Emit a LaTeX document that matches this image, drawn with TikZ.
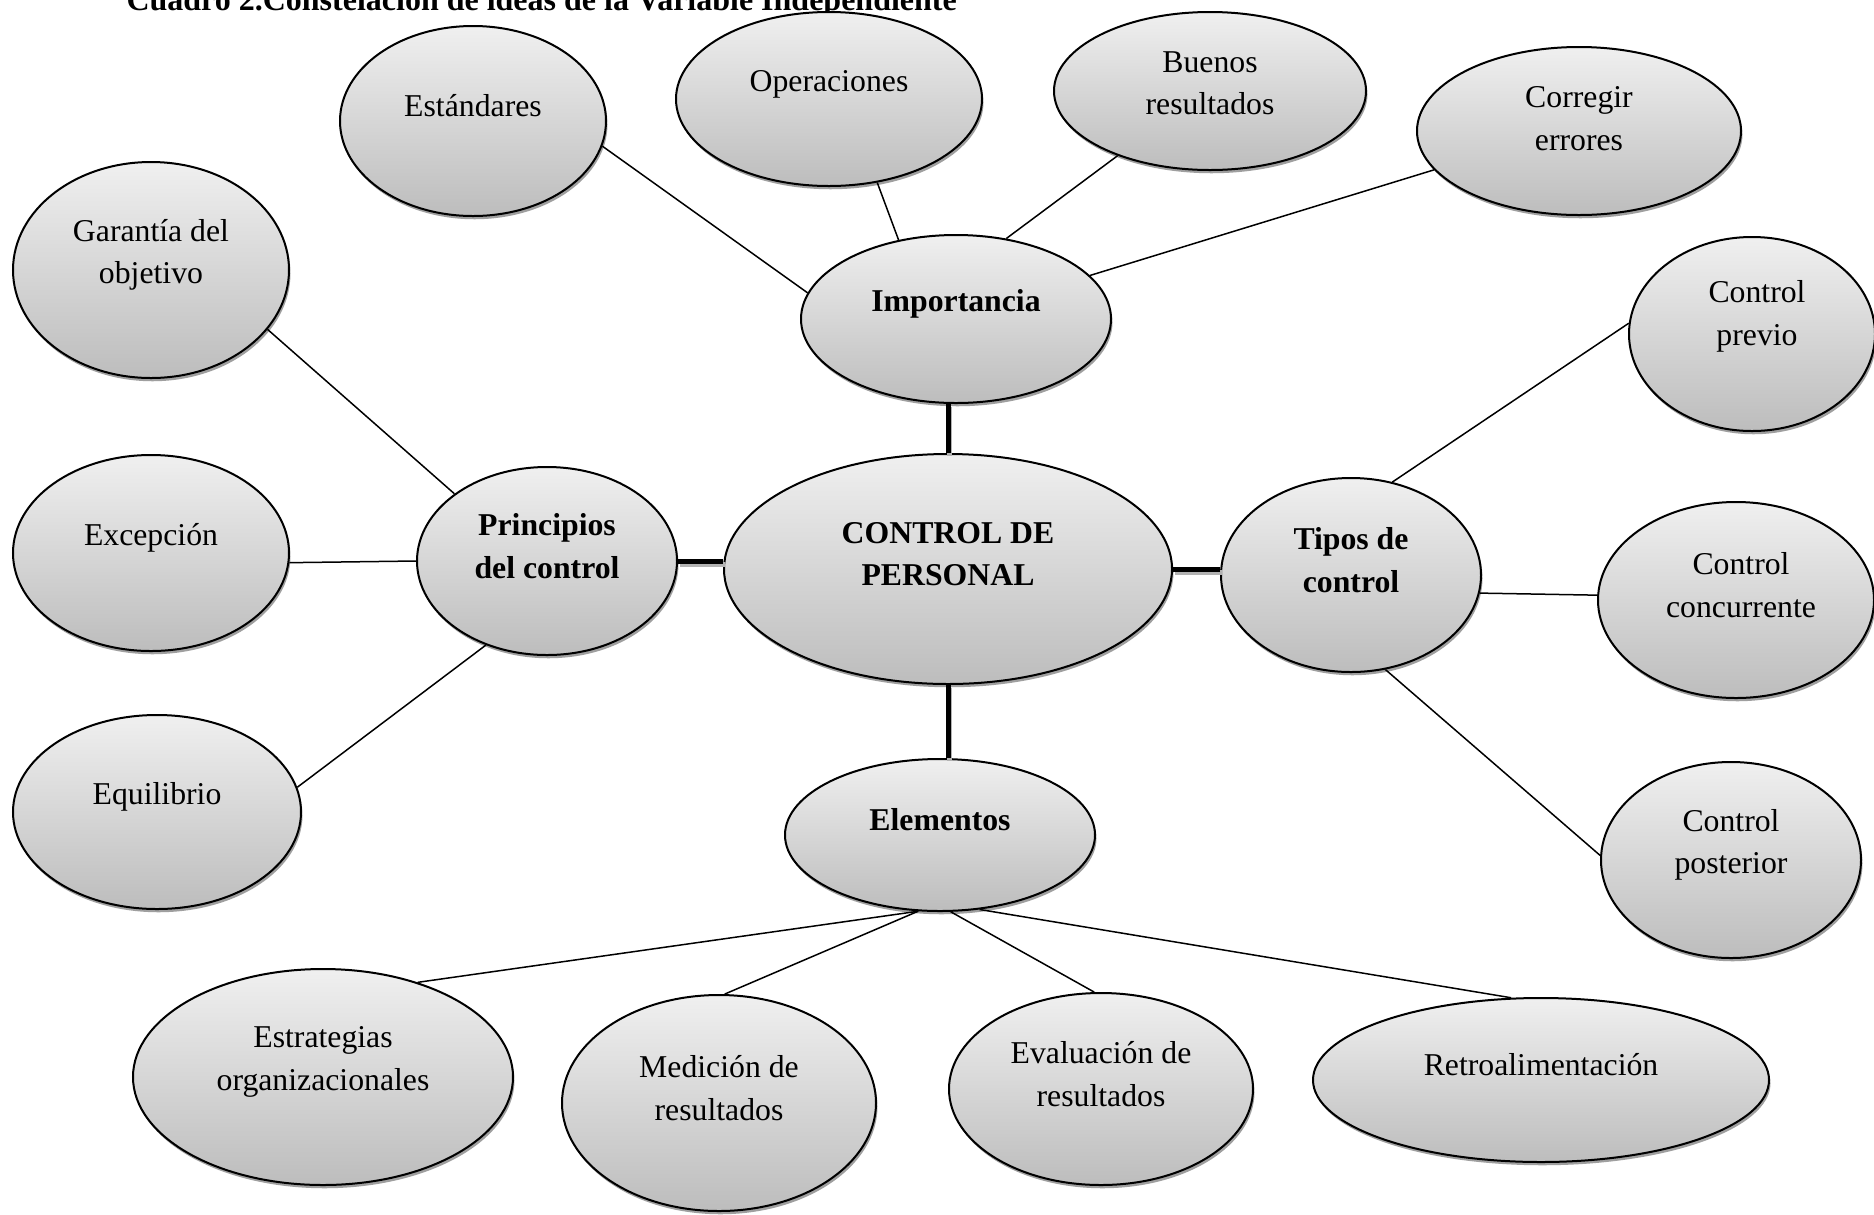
\documentclass[tikz,border=0pt]{standalone}
\usepackage{fontspec}
\setmainfont{Liberation Serif}
\usepackage{tikz}
\usetikzlibrary{shapes.geometric, shadows}

\tikzset{
  bub/.style 2 args={ellipse, draw, line width=0.8pt, inner sep=0pt,
    minimum width=#1*0.8pt, minimum height=#2*0.8pt,
    top color=gray!12, bottom color=gray!52,
    drop shadow={shadow xshift=0.6pt, shadow yshift=-1.3pt, fill=gray!75, opacity=1}},
  txt/.style={font=\fontsize{12.7}{17}\selectfont, align=center},
  btxt/.style={font=\fontsize{12.7}{17}\selectfont\bfseries, align=center},
  link/.style={line width=0.6pt},
  trunk/.style={line width=2pt,
    preaction={draw=gray!60, line width=2pt, transform canvas={xshift=0.6pt, yshift=-1.2pt}}}
}

\begin{document}
\begin{tikzpicture}[x=0.4pt, y=-0.4pt]
  \path[use as bounding box, fill=white] (0,0) rectangle (1874,1214);
  % Title (cut by the page edge)
  \node[anchor=base west, inner sep=0pt, font=\fontsize{12.8}{15}\selectfont\bfseries] (title) at (126,10)
       {Cuadro 2.Constelación de ideas de la Variable Independiente};

  % Main ideas
  \node[bub={224}{115}] (con) at (948,569) {};
  \node[bub={155}{84}] (imp) at (956,319) {};
  \node[bub={130}{94}] (pri) at (547,561) {};
  \node[bub={130}{97}] (tip) at (1351,575) {};
  \node[bub={155}{76}] (ele) at (940,835) {};

  % Importancia
  \node[bub={133}{95}] (est) at (473,121) {};
  \node[bub={153}{87}] (ope) at (829,99) {};
  \node[bub={156}{79}] (bue) at (1210,91) {};
  \node[bub={162}{84}] (cor) at (1579,131) {};

  % Principios del control
  \node[bub={138}{108}] (gar) at (151,270) {};
  \node[bub={138}{98}] (exc) at (151,553) {};
  \node[bub={144}{97}] (equ) at (157,812) {};

  % Tipos de control
  \node[bub={123}{97}] (pre) at (1752,334) {};
  \node[bub={138}{98}] (ccu) at (1736,600) {};
  \node[bub={130}{98}] (pos) at (1731,860) {};

  % Elementos
  \node[bub={190}{108}] (estr) at (323,1077) {};
  \node[bub={157}{108}] (med) at (719,1103) {};
  \node[bub={152}{96}] (eva) at (1101,1089) {};
  \node[bub={228}{82}] (ret) at (1541,1080) {};

  % Texts
  \node[btxt] (con-t) at ([yshift=6pt]con.center) {CONTROL DE\\PERSONAL};
  \node[btxt] (imp-t) at ([yshift=6pt]imp.center) {Importancia};
  \node[btxt] (pri-t) at ([yshift=6pt]pri.center) {Principios\\del control};
  \node[btxt] (tip-t) at ([yshift=6pt]tip.center) {Tipos de\\control};
  \node[btxt] (ele-t) at ([yshift=6pt]ele.center) {Elementos};
  \node[txt] (est-t) at ([yshift=6pt]est.center) {Estándares};
  \node[txt] (ope-t) at ([yshift=6pt]ope.center) {Operaciones};
  \node[txt] (bue-t) at ([yshift=3pt]bue.center) {Buenos\\resultados};
  \node[txt] (cor-t) at ([yshift=5pt]cor.center) {Corregir\\errores};
  \node[txt] (gar-t) at ([yshift=6pt]gar.center) {Garantía del\\objetivo};
  \node[txt] (exc-t) at ([yshift=6pt]exc.center) {Excepción};
  \node[txt] (equ-t) at ([yshift=6pt]equ.center) {Equilibrio};
  \node[txt] (pre-t) at ([xshift=2pt, yshift=7pt]pre.center) {Control\\previo};
  \node[txt] (ccu-t) at ([xshift=2pt, yshift=6pt]ccu.center) {Control\\concurrente};
  \node[txt] (pos-t) at ([yshift=6pt]pos.center) {Control\\posterior};
  \node[txt] (estr-t) at ([yshift=6pt]estr.center) {Estrategias\\organizacionales};
  \node[txt] (med-t) at ([yshift=6pt]med.center) {Medición de\\resultados};
  \node[txt] (eva-t) at ([yshift=6pt]eva.center) {Evaluación de\\resultados};
  \node[txt] (ret-t) at ([yshift=6pt]ret.center) {Retroalimentación};

  % Thick links to the centre
  \draw[trunk] (con.north) -- (con.north |- imp.south);
  \draw[trunk] (con.south) -- (con.south |- ele.north);
  \draw[trunk] (pri.east) -- (pri.east -| con.west);
  \draw[trunk] (con.east) -- (con.east -| tip.west);

  % Thin links
  \draw[link] (est.-11) -- (imp.170);
  \draw[link] (ope.-60) -- (imp.126);
  \draw[link] (bue.215) -- (imp.58);
  \draw[link] (cor.195) -- (imp.18);
  \draw[link] (gar.-27) -- (pri.144);
  \draw[link] (exc.-4) -- (pri.180);
  \draw[link] (equ.10) -- (pri.234);
  \draw[link] (tip.66) -- (pre.175);
  \draw[link] (tip.-8) -- (ccu.178);
  \draw[link] (tip.-70) -- (pos.178);
  \draw[link] (ele.254) -- (estr.45);
  \draw[link] (ele.254) -- (med.87);
  \draw[link] (ele.-82) -- (eva.94);
  \draw[link] (ele.-62) -- (ret.110);
\end{tikzpicture}
\end{document}
